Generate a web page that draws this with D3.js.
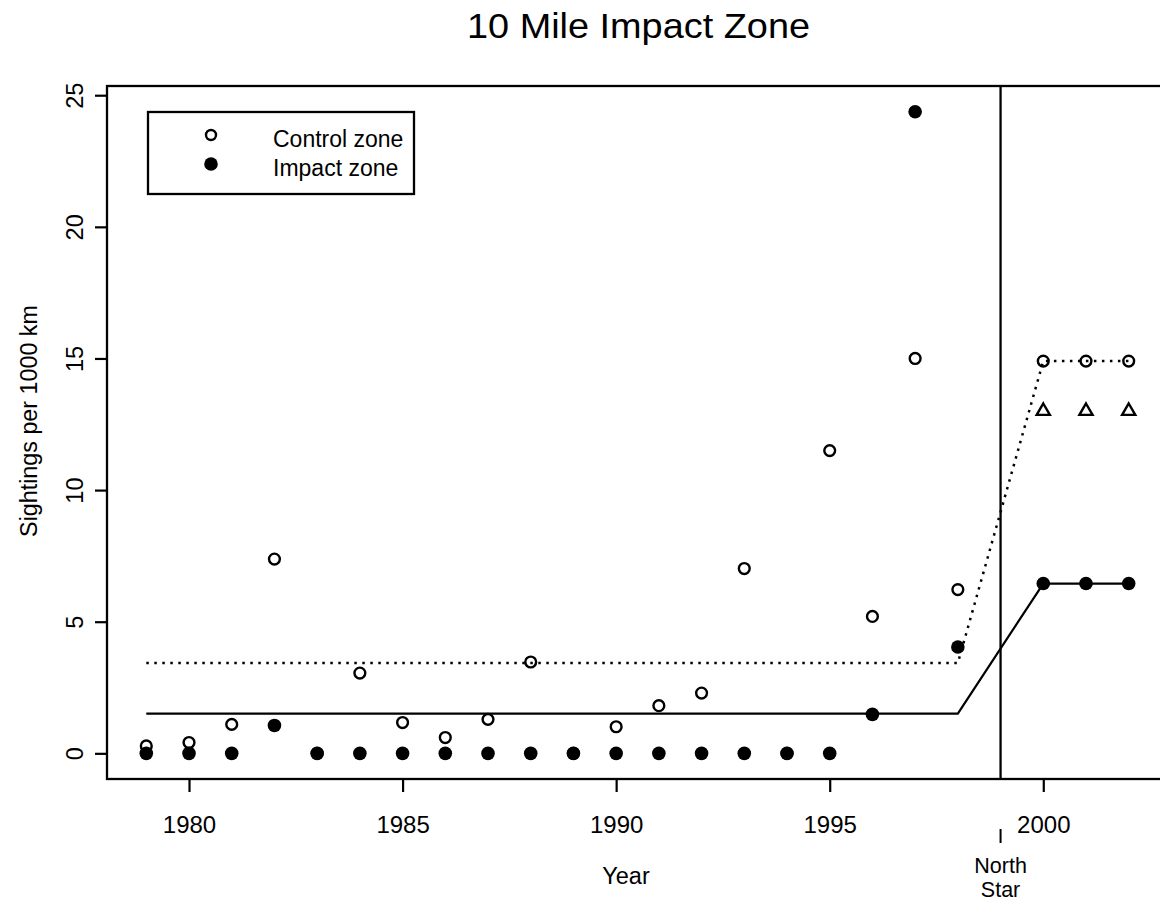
<!DOCTYPE html>
<html>
<head>
<meta charset="utf-8">
<script src="https://cdn.jsdelivr.net/npm/d3@7"></script>
<style>
  html, body { margin: 0; padding: 0; background: #fff; }
  svg { display: block; }
  text { font-family: "Liberation Sans", Arial, Helvetica, sans-serif; fill: #000; }
</style>
</head>
<body>
<svg id="chart" width="1160" height="910"></svg>
<script>
// ---------- data ----------
const years = [1979,1980,1981,1982,1983,1984,1985,1986,1987,1988,1989,1990,1991,1992,1993,1994,1995,1996,1997,1998];
const controlZone = [0.28,0.41,1.10,7.38,0,3.05,1.17,0.60,1.29,3.47,0,1.01,1.81,2.29,7.02,0,11.5,5.2,15.0,6.22];
const impactZone  = [0,0,0,1.06,0,0,0,0,0,0,0,0,0,0,0,0,0,1.48,24.37,4.04];

const projYears = [2000,2001,2002];
const projControl = [14.9,14.9,14.9];
const projImpact = [6.45,6.45,6.45];
const projTriangle = [13.0,13.0,13.0];

const fitYears = [1979,1998,2000,2002];
const fitControl = [3.43,3.43,14.9,14.9];
const fitImpact = [1.51,1.51,6.45,6.45];

const northStarYear = 1999;
const xTicks = [1980,1985,1990,1995,2000];
const yTicks = [0,5,10,15,20,25];

const titleText = "10 Mile Impact Zone";
const xTitle = "Year";
const yTitle = "Sightings per 1000 km";
const legendLabels = ["Control zone","Impact zone"];
const northStarLabel = ["North","Star"];

// ---------- layout ----------
const svg = d3.select("#chart");
const L = 107, R = 1168, T = 86, B = 779;
const x = d3.scaleLinear().domain([1978.08, 2002.92]).range([L, R]);
const y = d3.scaleLinear().domain([-0.975, 25.35]).range([B, T]);

// title
svg.append("text").attr("x", 638.5).attr("y", 38)
  .attr("text-anchor", "middle").attr("font-size", 35)
  .attr("textLength", 343).attr("lengthAdjust", "spacingAndGlyphs")
  .text(titleText);

// plot box
svg.append("rect").attr("x", L).attr("y", T).attr("width", R - L).attr("height", B - T)
  .attr("fill", "none").attr("stroke", "#000").attr("stroke-width", 2.3);

// x axis
const xAxis = d3.axisBottom(x).tickValues(xTicks).tickSize(13).tickFormat(d3.format("d"));
const gx = svg.append("g").attr("transform", `translate(0,${B})`).call(xAxis);
gx.select(".domain").remove();
gx.selectAll(".tick line").attr("stroke", "#000").attr("stroke-width", 2.2);
gx.selectAll(".tick text").attr("font-size", 24).attr("y", 0).attr("dy", null)
  .attr("transform", "translate(0,54)").style("font-family", "Liberation Sans, Arial, sans-serif");

// y axis
const yAxis = d3.axisLeft(y).tickValues(yTicks).tickSize(12);
const gy = svg.append("g").attr("transform", `translate(${L},0)`).call(yAxis);
gy.select(".domain").remove();
gy.selectAll(".tick line").attr("stroke", "#000").attr("stroke-width", 2.2);
gy.selectAll(".tick text")
  .attr("x", null).attr("dy", null)
  .attr("text-anchor", "middle").attr("font-size", 23.5)
  .attr("transform", "translate(-24,0) rotate(-90)")
  .style("font-family", "Liberation Sans, Arial, sans-serif");

// axis titles
svg.append("text").attr("x", 626).attr("y", 884).attr("text-anchor", "middle")
  .attr("font-size", 23.5).text(xTitle);
svg.append("text").attr("transform", "translate(37,421) rotate(-90)")
  .attr("text-anchor", "middle").attr("font-size", 23.3).text(yTitle);

// North Star marker
svg.append("line").attr("x1", x(northStarYear)).attr("x2", x(northStarYear))
  .attr("y1", T).attr("y2", B).attr("stroke", "#000").attr("stroke-width", 2.3);
svg.append("line").attr("x1", x(northStarYear)).attr("x2", x(northStarYear))
  .attr("y1", 829).attr("y2", 843).attr("stroke", "#000").attr("stroke-width", 2);
northStarLabel.forEach((t, i) => {
  svg.append("text").attr("x", x(northStarYear)).attr("y", 873 + i * 24)
    .attr("text-anchor", "middle").attr("font-size", 21.5).text(t);
});

// fitted lines
const fitLine = d3.line().x(d => x(d[0])).y(d => y(d[1]));
svg.append("path").datum(fitYears.map((yr, i) => [yr, fitControl[i]]))
  .attr("d", fitLine).attr("fill", "none").attr("stroke", "#000")
  .attr("stroke-width", 2.5).attr("stroke-dasharray", "2.5,5.5");
svg.append("path").datum(fitYears.map((yr, i) => [yr, fitImpact[i]]))
  .attr("d", fitLine).attr("fill", "none").attr("stroke", "#000")
  .attr("stroke-width", 2.2);

// points: control (open), then impact (filled)
const ctrlPts = years.map((yr, i) => [yr, controlZone[i]]).concat(projYears.map((yr, i) => [yr, projControl[i]]));
const impPts = years.map((yr, i) => [yr, impactZone[i]]).concat(projYears.map((yr, i) => [yr, projImpact[i]]));

svg.append("g").selectAll("circle").data(ctrlPts).join("circle")
  .attr("cx", d => x(d[0])).attr("cy", d => y(d[1])).attr("r", 5.4)
  .attr("fill", "none").attr("stroke", "#000").attr("stroke-width", 2.4);

svg.append("g").selectAll("circle").data(impPts).join("circle")
  .attr("cx", d => x(d[0])).attr("cy", d => y(d[1])).attr("r", 6.8)
  .attr("fill", "#000");

// triangles
const tri = d3.symbol().type(d3.symbolTriangle).size(75);
svg.append("g").selectAll("path").data(projYears.map((yr, i) => [yr, projTriangle[i]])).join("path")
  .attr("d", tri).attr("transform", d => `translate(${x(d[0])},${y(d[1])})`)
  .attr("fill", "none").attr("stroke", "#000").attr("stroke-width", 2.4);

// legend
const lg = svg.append("g");
lg.append("rect").attr("x", 148).attr("y", 112).attr("width", 266).attr("height", 82)
  .attr("fill", "#fff").attr("stroke", "#000").attr("stroke-width", 2.3);
lg.append("circle").attr("cx", 211).attr("cy", 135).attr("r", 5)
  .attr("fill", "none").attr("stroke", "#000").attr("stroke-width", 2.4);
lg.append("circle").attr("cx", 211).attr("cy", 164).attr("r", 6.8).attr("fill", "#000");
legendLabels.forEach((t, i) => {
  lg.append("text").attr("x", 273).attr("y", 147 + i * 29).attr("font-size", 23).text(t);
});
</script>
</body>
</html>
